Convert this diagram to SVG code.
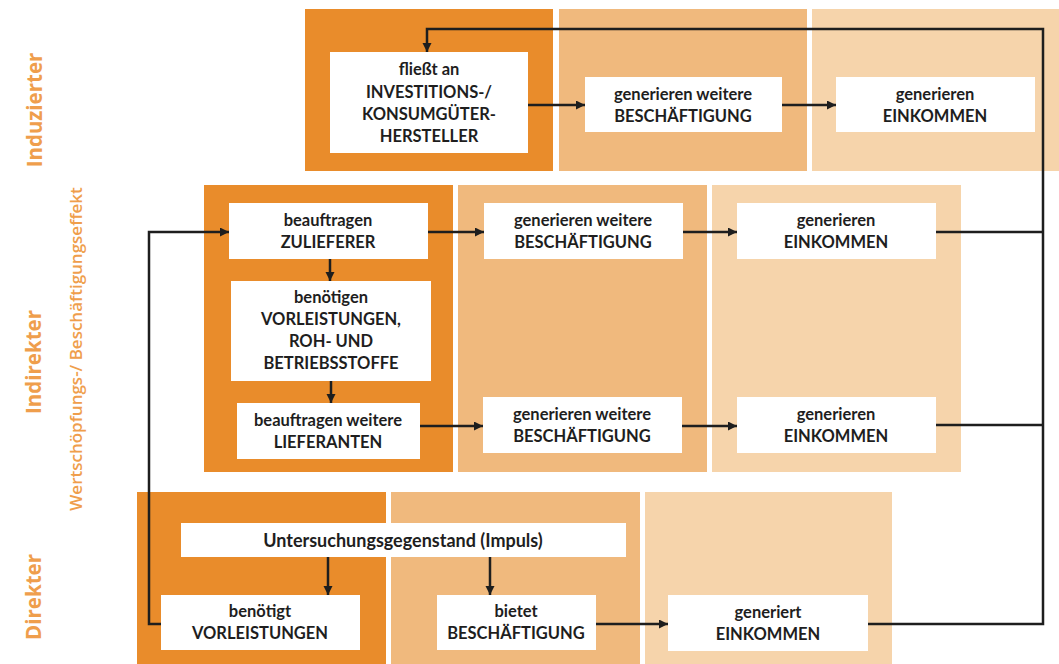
<svg xmlns="http://www.w3.org/2000/svg" width="1059" height="664" viewBox="0 0 1059 664">
<style>
.dk{fill:#E98C2B}
.md{fill:#F0B97D}
.lt{fill:#F6D4AB}
.box{fill:#FFFFFF}
.t{font-family:Lato,"Open Sans",sans-serif;font-weight:700;font-size:16.5px;fill:#1E1E1E;text-anchor:middle;dominant-baseline:central}
.lbl{font-family:"Open Sans",sans-serif;font-weight:700;fill:#EF9E4C;text-anchor:middle;dominant-baseline:central}
.c{fill:none;stroke:#1E1E1E;stroke-width:2.5}
</style>
<defs>
<marker id="ah" markerUnits="userSpaceOnUse" markerWidth="10" markerHeight="10" refX="9" refY="4.5" orient="auto">
<path d="M0,0 L9,4.5 L0,9 z" fill="#1E1E1E"/>
</marker>
</defs>
<rect width="1059" height="664" fill="#FFFFFF"/>
<g id="labels">
<text class="lbl" font-size="20.5" x="34" y="110" transform="rotate(-90 34 110)">Induzierter</text>
<text class="lbl" font-size="20.5" x="33" y="362" transform="rotate(-90 33 362)">Indirekter</text>
<text class="lbl" font-size="20.5" x="33" y="597" transform="rotate(-90 33 597)">Direkter</text>
<text class="lbl" font-size="17" x="75" y="349" transform="rotate(-90 75 349)" style="font-weight:600">Wertschöpfungs-/ Beschäftigungseffekt</text>
</g>
<g id="panels">
<rect class="dk" x="305" y="9" width="248" height="162"/>
<rect class="md" x="559" y="9" width="248" height="162"/>
<rect class="lt" x="812" y="9" width="247" height="162"/>
<rect class="dk" x="204" y="185" width="249" height="287"/>
<rect class="md" x="458" y="185" width="249" height="287"/>
<rect class="lt" x="712" y="185" width="249" height="287"/>
<rect class="dk" x="137" y="492" width="249" height="172"/>
<rect class="md" x="391" y="492" width="249" height="172"/>
<rect class="lt" x="645" y="492" width="247" height="172"/>
</g>
<g id="connectors">
<path class="c" d="M868,624 H1043 V29 H427 V52" marker-end="url(#ah)"/>
<path class="c" d="M936,232 H1043"/>
<path class="c" d="M936,425 H1043"/>
<path class="c" d="M528,105 H585" marker-end="url(#ah)"/>
<path class="c" d="M782,105 H836" marker-end="url(#ah)"/>
<path class="c" d="M428,232 H484" marker-end="url(#ah)"/>
<path class="c" d="M683,232 H737" marker-end="url(#ah)"/>
<path class="c" d="M420,426 H483" marker-end="url(#ah)"/>
<path class="c" d="M682,426 H737" marker-end="url(#ah)"/>
<path class="c" d="M330,259 V281" marker-end="url(#ah)"/>
<path class="c" d="M331,381 V403" marker-end="url(#ah)"/>
<path class="c" d="M161,624 H149 V232 H229" marker-end="url(#ah)"/>
<path class="c" d="M328,557 V595" marker-end="url(#ah)"/>
<path class="c" d="M490,557 V595" marker-end="url(#ah)"/>
<path class="c" d="M596,624 H668" marker-end="url(#ah)"/>
</g>
<g id="n-fliesst">
<rect class="box" x="330" y="52" width="198" height="101"/>
<text class="t" x="429" y="69">fließt an</text>
<text class="t" x="429" y="92">INVESTITIONS-/</text>
<text class="t" x="429" y="114">KONSUMGÜTER-</text>
<text class="t" x="429" y="136">HERSTELLER</text>
</g>
<g id="n-ind-besch">
<rect class="box" x="585" y="77" width="197" height="55"/>
<text class="t" x="683" y="94">generieren weitere</text>
<text class="t" x="683" y="116">BESCHÄFTIGUNG</text>
</g>
<g id="n-ind-eink">
<rect class="box" x="836" y="77" width="199" height="55"/>
<text class="t" x="935" y="94">generieren</text>
<text class="t" x="935" y="116">EINKOMMEN</text>
</g>
<g id="n-zulieferer">
<rect class="box" x="229" y="203" width="199" height="56"/>
<text class="t" x="328" y="220">beauftragen</text>
<text class="t" x="328" y="242">ZULIEFERER</text>
</g>
<g id="n-vorleistungen">
<rect class="box" x="231" y="281" width="200" height="100"/>
<text class="t" x="331" y="297">benötigen</text>
<text class="t" x="331" y="319">VORLEISTUNGEN,</text>
<text class="t" x="331" y="341">ROH- UND</text>
<text class="t" x="331" y="363">BETRIEBSSTOFFE</text>
</g>
<g id="n-lieferanten">
<rect class="box" x="237" y="403" width="183" height="56"/>
<text class="t" x="328" y="420">beauftragen weitere</text>
<text class="t" x="328" y="442">LIEFERANTEN</text>
</g>
<g id="n-indir-besch1">
<rect class="box" x="484" y="203" width="199" height="56"/>
<text class="t" x="583" y="220">generieren weitere</text>
<text class="t" x="583" y="242">BESCHÄFTIGUNG</text>
</g>
<g id="n-indir-eink1">
<rect class="box" x="737" y="203" width="199" height="56"/>
<text class="t" x="836" y="220">generieren</text>
<text class="t" x="836" y="242">EINKOMMEN</text>
</g>
<g id="n-indir-besch2">
<rect class="box" x="483" y="397" width="199" height="56"/>
<text class="t" x="582" y="414">generieren weitere</text>
<text class="t" x="582" y="436">BESCHÄFTIGUNG</text>
</g>
<g id="n-indir-eink2">
<rect class="box" x="737" y="397" width="199" height="56"/>
<text class="t" x="836" y="414">generieren</text>
<text class="t" x="836" y="436">EINKOMMEN</text>
</g>
<g id="n-impuls">
<rect class="box" x="181" y="523" width="445" height="34"/>
<text class="t" x="403" y="540" style="font-size:18px">Untersuchungsgegenstand (Impuls)</text>
</g>
<g id="n-benoetigt">
<rect class="box" x="161" y="595" width="199" height="55"/>
<text class="t" x="260" y="611">benötigt</text>
<text class="t" x="260" y="633">VORLEISTUNGEN</text>
</g>
<g id="n-bietet">
<rect class="box" x="437" y="595" width="159" height="55"/>
<text class="t" x="516" y="611">bietet</text>
<text class="t" x="516" y="633">BESCHÄFTIGUNG</text>
</g>
<g id="n-generiert">
<rect class="box" x="668" y="595" width="200" height="56"/>
<text class="t" x="768" y="612">generiert</text>
<text class="t" x="768" y="634">EINKOMMEN</text>
</g>
</svg>
